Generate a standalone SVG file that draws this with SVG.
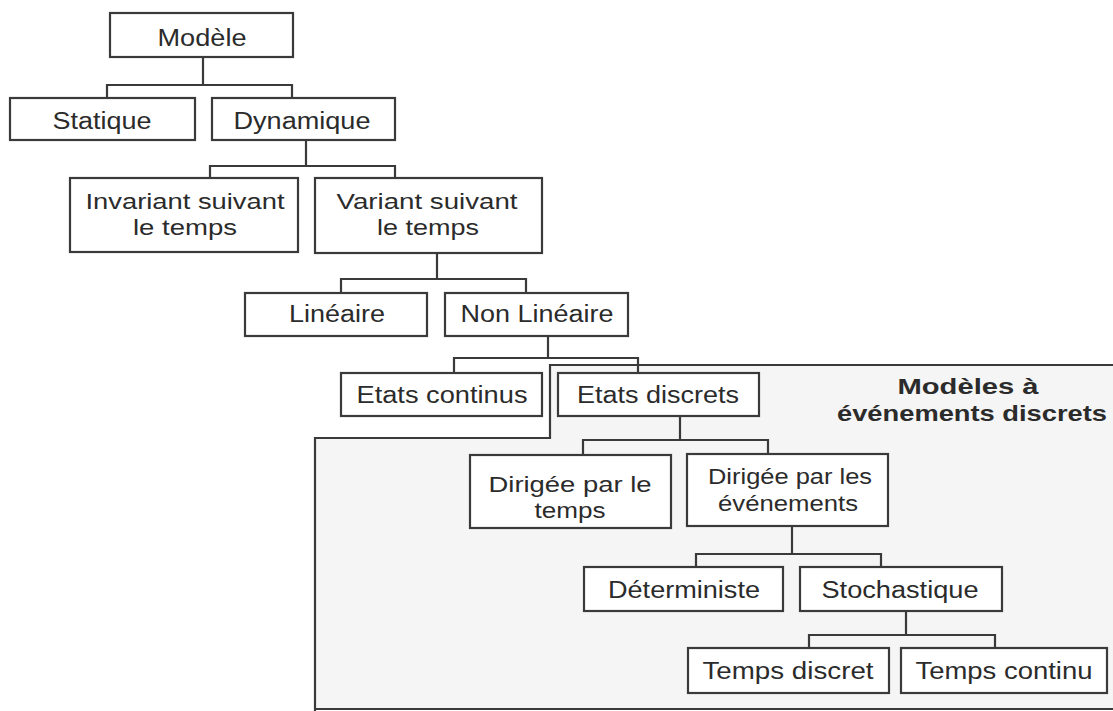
<svg xmlns="http://www.w3.org/2000/svg" width="1113" height="711" viewBox="0 0 1113 711">
<style>
.box{fill:#fff;stroke:#3a3a3a;stroke-width:2.2}
.t{font-family:"Liberation Sans",Arial,sans-serif;font-size:23px;fill:#2b2b2b;text-anchor:middle}
.t2{font-size:22px}
.b{font-weight:bold}
.c{fill:none;stroke:#3a3a3a;stroke-width:2.2}
.region{fill:#f5f5f5;stroke:none}
.outline{fill:none;stroke:#3a3a3a;stroke-width:2.2}
</style>
<rect width="1113" height="711" fill="#fff"/>
<g id="region">
<path class="region" d="M550,365 H1113 V709 H315 V438 H550 Z"/>
<path class="outline" d="M1113,365 H550 V438 H315 V711 M315,709 H1113"/>
<text class="t t2 b" x="968" y="394" textLength="141" lengthAdjust="spacingAndGlyphs">Modèles à</text>
<text class="t t2 b" x="972" y="421" textLength="270" lengthAdjust="spacingAndGlyphs">événements discrets</text>
</g>
<g id="connectors">
<path class="c" d="M203,57 V85 M107,98 V85 H292 V98"/>
<path class="c" d="M306,140 V166 M210,178 V166 H395 V178"/>
<path class="c" d="M437,253 V279 M341,293 V279 H526 V293"/>
<path class="c" d="M548,336 V358 M454,373 V358 H638 V373"/>
<path class="c" d="M680,416 V440 M583,455 V440 H768 V455"/>
<path class="c" d="M792,526 V554 M696,567 V554 H881 V567"/>
<path class="c" d="M906,611 V635 M809,648 V635 H995 V648"/>
</g>
<g id="n-modele"><rect class="box" x="110" y="13" width="183" height="44"/><text class="t" x="202" y="46" textLength="89" lengthAdjust="spacingAndGlyphs">Modèle</text></g>
<g id="n-statique"><rect class="box" x="10" y="98" width="185" height="42"/><text class="t" x="102" y="129" textLength="99" lengthAdjust="spacingAndGlyphs">Statique</text></g>
<g id="n-dynamique"><rect class="box" x="212" y="98" width="183" height="42"/><text class="t" x="302" y="129" textLength="137" lengthAdjust="spacingAndGlyphs">Dynamique</text></g>
<g id="n-invariant"><rect class="box" x="70" y="178" width="228" height="74"/><text class="t t2" x="185" y="209" textLength="199" lengthAdjust="spacingAndGlyphs">Invariant suivant</text><text class="t t2" x="185" y="235" textLength="104" lengthAdjust="spacingAndGlyphs">le temps</text></g>
<g id="n-variant"><rect class="box" x="315" y="178" width="227" height="75"/><text class="t t2" x="427" y="209" textLength="181" lengthAdjust="spacingAndGlyphs">Variant suivant</text><text class="t t2" x="428" y="235" textLength="102" lengthAdjust="spacingAndGlyphs">le temps</text></g>
<g id="n-lineaire"><rect class="box" x="245" y="293" width="182" height="43"/><text class="t" x="337" y="322" textLength="96" lengthAdjust="spacingAndGlyphs">Linéaire</text></g>
<g id="n-nonlineaire"><rect class="box" x="445" y="293" width="183" height="43"/><text class="t" x="537" y="322" textLength="153" lengthAdjust="spacingAndGlyphs">Non Linéaire</text></g>
<g id="n-etatscontinus"><rect class="box" x="341" y="373" width="201" height="43"/><text class="t" x="442" y="403" textLength="171" lengthAdjust="spacingAndGlyphs">Etats continus</text></g>
<g id="n-etatsdiscrets"><rect class="box" x="558" y="373" width="201" height="43"/><text class="t" x="658" y="403" textLength="162" lengthAdjust="spacingAndGlyphs">Etats discrets</text></g>
<g id="n-dirigee-temps"><rect class="box" x="470" y="455" width="201" height="73"/><text class="t t2" x="570" y="492" textLength="163" lengthAdjust="spacingAndGlyphs">Dirigée par le</text><text class="t t2" x="570" y="518" textLength="71" lengthAdjust="spacingAndGlyphs">temps</text></g>
<g id="n-dirigee-evenements"><rect class="box" x="687" y="454" width="201" height="72"/><text class="t t2" x="790" y="484" textLength="164" lengthAdjust="spacingAndGlyphs">Dirigée par les</text><text class="t t2" x="788" y="511" textLength="140" lengthAdjust="spacingAndGlyphs">événements</text></g>
<g id="n-deterministe"><rect class="box" x="584" y="567" width="199" height="44"/><text class="t" x="684" y="598" textLength="152" lengthAdjust="spacingAndGlyphs">Déterministe</text></g>
<g id="n-stochastique"><rect class="box" x="800" y="567" width="202" height="44"/><text class="t" x="900" y="598" textLength="157" lengthAdjust="spacingAndGlyphs">Stochastique</text></g>
<g id="n-tempsdiscret"><rect class="box" x="688" y="648" width="201" height="45"/><text class="t" x="788" y="679" textLength="171" lengthAdjust="spacingAndGlyphs">Temps discret</text></g>
<g id="n-tempscontinu"><rect class="box" x="901" y="648" width="206" height="45"/><text class="t" x="1004" y="679" textLength="177" lengthAdjust="spacingAndGlyphs">Temps continu</text></g>
</svg>
